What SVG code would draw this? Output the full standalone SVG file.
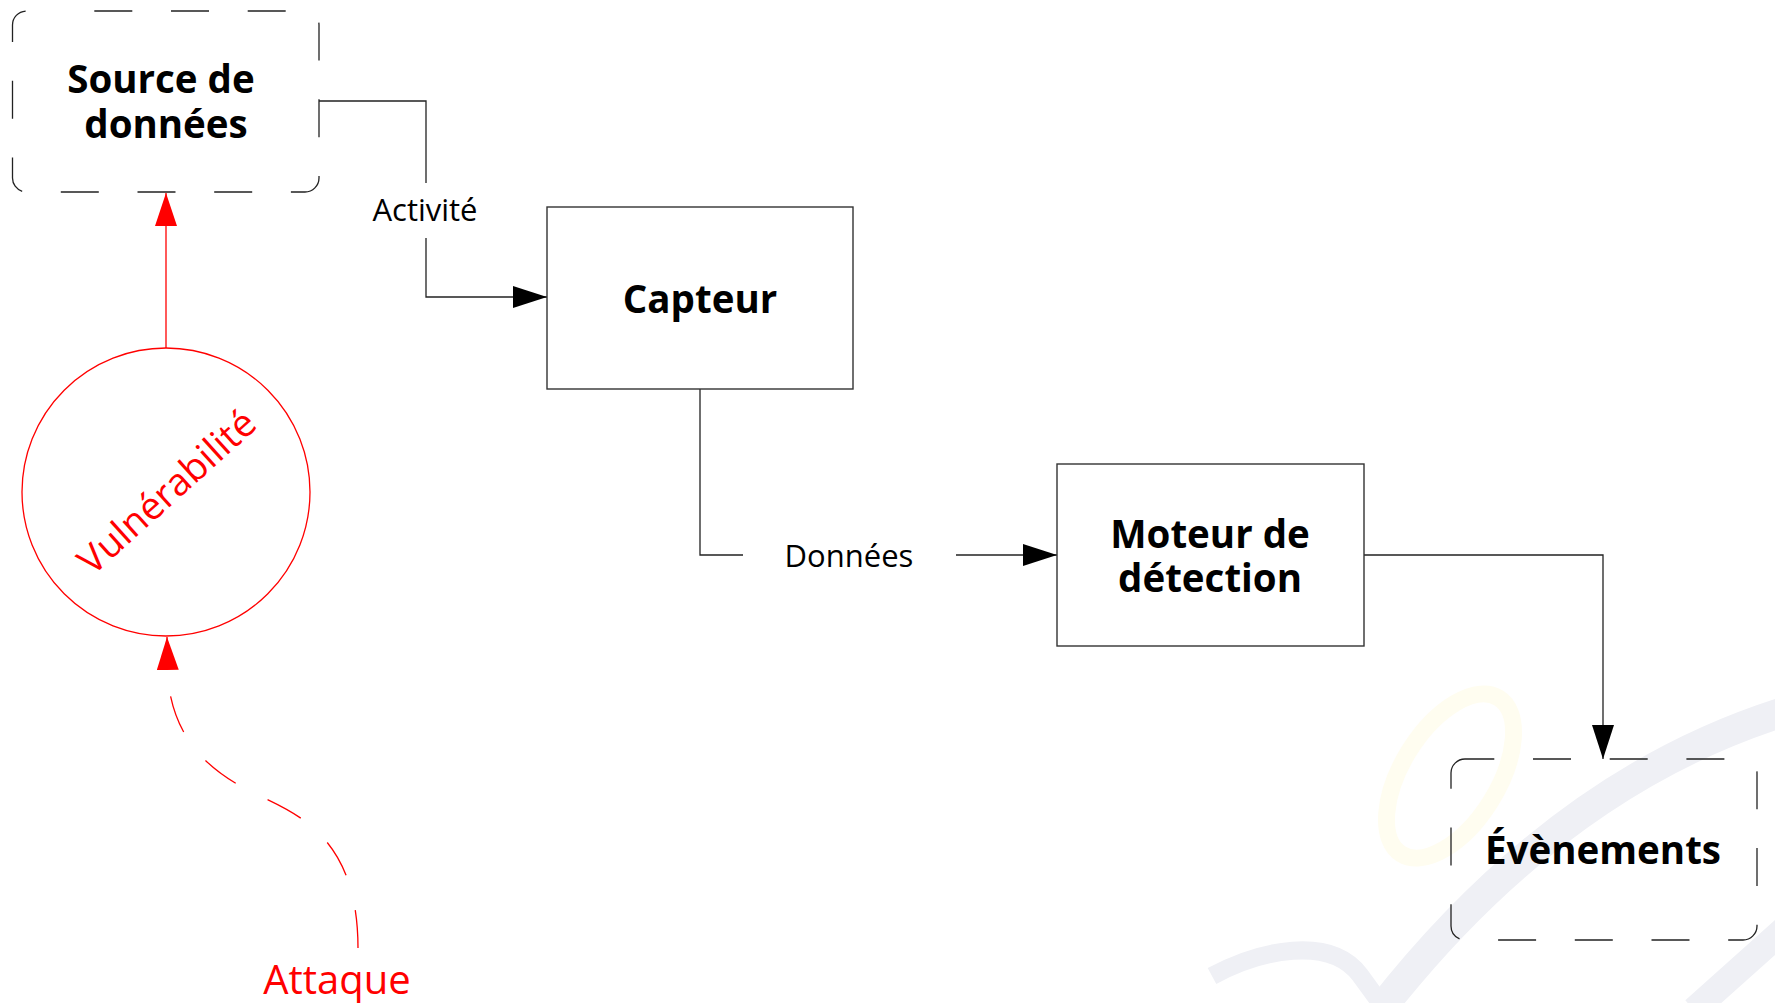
<svg xmlns="http://www.w3.org/2000/svg" width="1775" height="1003" viewBox="0 0 1775 1003">
<style>
.bold{font-family:"Open Sans","Noto Sans","DejaVu Sans",sans-serif;font-weight:700;font-size:38.5px;fill:#000;text-anchor:middle}
.lbl{font-family:"Open Sans","Noto Sans","DejaVu Sans",sans-serif;font-size:31px;fill:#000;text-anchor:middle}
.red{font-family:"Open Sans","Noto Sans","DejaVu Sans",sans-serif;font-size:40px;fill:#ff0000;text-anchor:middle}
.box{fill:#fff;stroke:#333;stroke-width:1.4}
.dbox{fill:none;stroke:#222;stroke-width:1.3;stroke-dasharray:38 38.7}
.con{fill:none;stroke:#222;stroke-width:1.3}
.rcon{fill:none;stroke:#ff0000;stroke-width:1.3}
.wm{fill:none;stroke:#eff0f5;stroke-linecap:butt}
</style>
<defs>
<marker id="arrow" markerUnits="userSpaceOnUse" markerWidth="34" markerHeight="22" refX="34" refY="11" orient="auto"><path d="M0,0 L34,11 L0,22 z" fill="#000"/></marker>
<marker id="arrowRed" markerUnits="userSpaceOnUse" markerWidth="33" markerHeight="22" refX="33" refY="11" orient="auto"><path d="M0,0 L33,11 L0,22 z" fill="#ff0000"/></marker>
</defs>
<rect width="1775" height="1003" fill="#fff"/>
<g id="watermark">
<path class="wm" d="M1790,710 Q1560,780 1380,1010" stroke-width="30"/>
<path class="wm" d="M1212,976 C1260,950 1330,935 1360,975 L1384,1008" stroke-width="18"/>
<path class="wm" d="M1790,924 L1694,1010" stroke-width="26"/>
<ellipse cx="1450" cy="776" rx="92" ry="48" transform="rotate(-58 1450 776)" fill="none" stroke="#fffdf0" stroke-width="17"/>
</g>
<g id="connectors">
<path class="con" d="M319,101 H426 V183"/>
<path class="con" d="M426,238 V297 H547" marker-end="url(#arrow)"/>
<path class="con" d="M700,389 V555 H743"/>
<path class="con" d="M956,555 H1057" marker-end="url(#arrow)"/>
<path class="con" d="M1364,555 H1603 V759" marker-end="url(#arrow)"/>
<path class="rcon" d="M166,348 V193" marker-end="url(#arrowRed)"/>
<path class="rcon" d="M358,948 C358,840 300,815 260,796 C215,775 175,745 168,680 L167,637" stroke-dasharray="38 36" marker-end="url(#arrowRed)"/>
</g>
<g id="source">
<path class="dbox" style="stroke-dashoffset:42.9" d="M60.5,11 H305 A14,14 0 0 1 319,25 V178 A14,14 0 0 1 305,192 H26.5 A14,14 0 0 1 12.5,178 V25 A14,14 0 0 1 26.5,11 Z"/>
<text class="bold"><tspan x="161" y="93">Source de</tspan><tspan x="166" y="138">données</tspan></text>
</g>
<g id="capteur">
<rect class="box" x="547" y="207" width="306" height="182"/>
<text class="bold" x="700" y="313">Capteur</text>
</g>
<g id="moteur">
<rect class="box" x="1057" y="464" width="307" height="182"/>
<text class="bold"><tspan x="1210" y="548">Moteur de</tspan><tspan x="1210" y="592">détection</tspan></text>
</g>
<g id="evenements">
<path class="dbox" style="stroke-dashoffset:8.7" d="M1465,759 H1743 A14,14 0 0 1 1757,773 V926 A14,14 0 0 1 1743,940 H1465 A14,14 0 0 1 1451,926 V773 A14,14 0 0 1 1465,759 Z"/>
<text class="bold" x="1603" y="864">Évènements</text>
</g>
<g id="vulnerabilite">
<circle cx="166" cy="492" r="144" fill="none" stroke="#ff0000" stroke-width="1.3"/>
<text class="red" style="font-size:38px" transform="translate(167,492) rotate(-42)" x="0" y="13">Vulnérabilité</text>
</g>
<g id="labels">
<text class="lbl" x="425" y="221">Activité</text>
<text class="lbl" x="849" y="567">Données</text>
<text class="red" x="337" y="994">Attaque</text>
</g>
</svg>
